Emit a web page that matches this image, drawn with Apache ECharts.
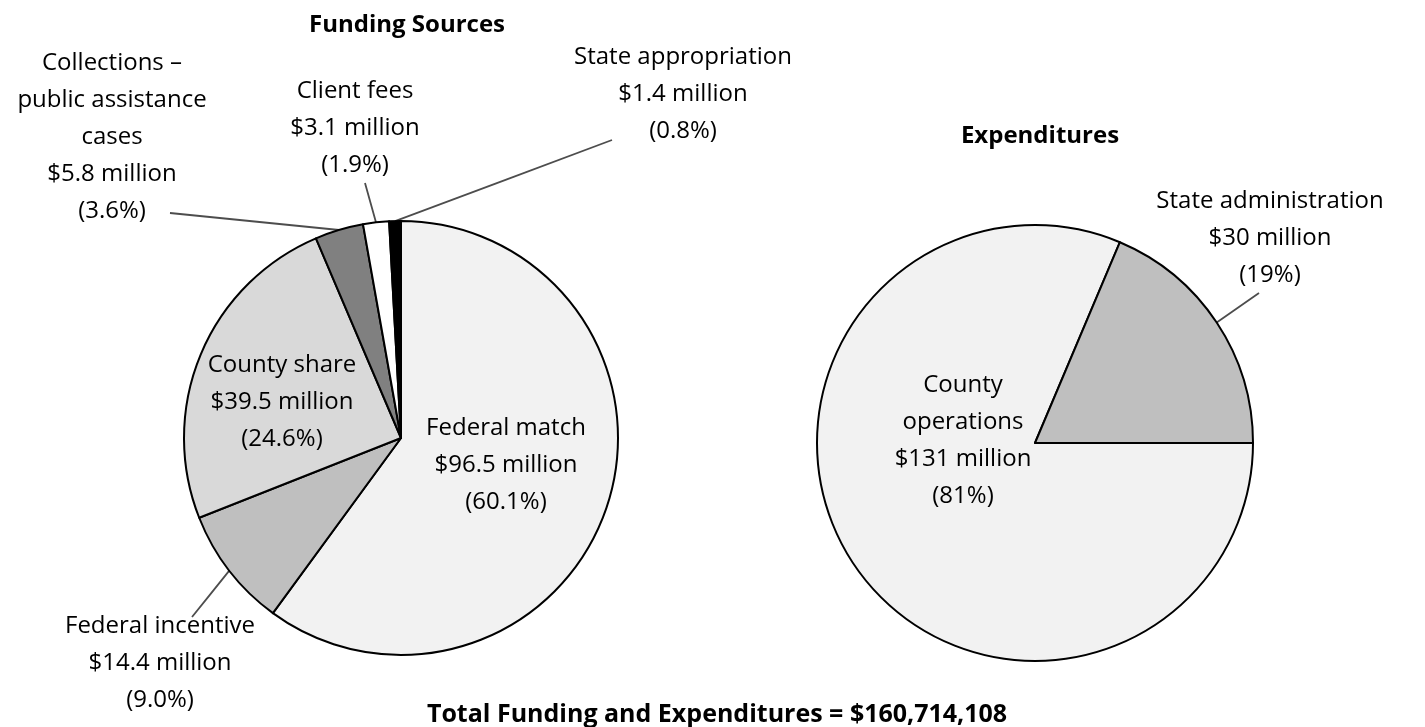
<!DOCTYPE html>
<html>
<head>
<meta charset="utf-8">
<script src="https://cdn.jsdelivr.net/npm/echarts@6/dist/echarts.min.js"></script>
<style>
html,body{margin:0;padding:0;background:#fff;}
#chart{width:1425px;height:727px;}
</style>
</head>
<body>
<div id="chart"></div>
<script>
// ---- data ----
const fundingNames = ['Federal match', 'Federal incentive', 'County share', 'Collections –\npublic assistance\ncases', 'Client fees', 'State appropriation'];
const fundingValues = [96.5, 14.4, 39.5, 5.8, 3.1, 1.4];
const fundingPct = ['60.1%', '9.0%', '24.6%', '3.6%', '1.9%', '0.8%'];

const expendNames = ['County\noperations', 'State administration'];
const expendValues = [131, 30];
const expendPct = ['81%', '19%'];

const titleLeft = 'Funding Sources';
const titleRight = 'Expenditures';
const totalText = 'Total Funding and Expenditures = $160,714,108';

// ---- styles / layout ----
const FONT = '"Open Sans", "Noto Sans", sans-serif';
const fundingColors = ['#f2f2f2', '#bfbfbf', '#d9d9d9', '#808080', '#ffffff', '#000000'];
const expendColors = ['#f2f2f2', '#bfbfbf'];
// label anchor (center of text block) and leader-line end point
const fundingLabelPos = [
  {x: 506, y: 465},
  {x: 160, y: 663, end: [192, 617]},
  {x: 282, y: 402},
  {x: 112, y: 137, end: [170, 213]},
  {x: 355, y: 128, end: [365, 183]},
  {x: 683, y: 94, end: [612, 140]}
];
const expendLabelPos = [
  {x: 963, y: 441},
  {x: 1270, y: 238, end: [1259, 293]}
];

function buildData(names, values, pct, colors, pos) {
  return names.map((n, i) => ({
    name: n,
    value: values[i],
    itemStyle: {color: colors[i]},
    label: {position: pos[i].end ? 'outside' : 'inside'},
    labelLine: {show: !!pos[i].end}
  }));
}

function makeLayout(pos) {
  return function (params) {
    const p = pos[params.dataIndex];
    const out = {x: p.x, y: p.y, align: 'center', verticalAlign: 'middle'};
    if (p.end && params.labelLinePoints) {
      const s = params.labelLinePoints[0];
      out.labelLinePoints = [s, [(s[0] + p.end[0]) / 2, (s[1] + p.end[1]) / 2], p.end];
    }
    return out;
  };
}

function labelFmt(values, pct) {
  return function (params) {
    return params.name + '\n$' + values[params.dataIndex] + ' million\n(' + pct[params.dataIndex] + ')';
  };
}

const commonLabel = {
  show: true,
  color: '#000',
  fontFamily: FONT,
  fontSize: 24,
  lineHeight: 37,
  align: 'center'
};

const chart = echarts.init(document.getElementById('chart'), null, {renderer: 'canvas'});
chart.setOption({
  backgroundColor: '#ffffff',
  animation: false,
  title: [
    {text: titleLeft, left: 402, top: 8, textAlign: 'center',
     textStyle: {fontFamily: FONT, fontWeight: 'bold', fontSize: 24, color: '#000'}},
    {text: titleRight, left: 1035, top: 119, textAlign: 'center',
     textStyle: {fontFamily: FONT, fontWeight: 'bold', fontSize: 24, color: '#000'}},
    {text: totalText, left: 712, top: 697, textAlign: 'center',
     textStyle: {fontFamily: FONT, fontWeight: 'bold', fontSize: 25, color: '#000'}}
  ],
  series: [
    {
      type: 'pie',
      center: [401, 438],
      radius: 217,
      startAngle: 90,
      clockwise: true,
      avoidLabelOverlap: false,
      minShowLabelAngle: 0,
      emphasis: {disabled: true},
      itemStyle: {borderColor: '#000', borderWidth: 2},
      label: Object.assign({}, commonLabel, {formatter: labelFmt(fundingValues, fundingPct)}),
      labelLine: {lineStyle: {color: '#4d4d4d', width: 1.8}, length: 10, length2: 10},
      labelLayout: makeLayout(fundingLabelPos),
      data: buildData(fundingNames, fundingValues, fundingPct, fundingColors, fundingLabelPos)
    },
    {
      type: 'pie',
      center: [1035, 443],
      radius: 218,
      startAngle: 0,
      clockwise: true,
      avoidLabelOverlap: false,
      minShowLabelAngle: 0,
      emphasis: {disabled: true},
      itemStyle: {borderColor: '#000', borderWidth: 2},
      label: Object.assign({}, commonLabel, {formatter: labelFmt(expendValues, expendPct)}),
      labelLine: {lineStyle: {color: '#4d4d4d', width: 1.8}, length: 10, length2: 10},
      labelLayout: makeLayout(expendLabelPos),
      data: buildData(expendNames, expendValues, expendPct, expendColors, expendLabelPos)
    }
  ]
});
</script>
</body>
</html>
